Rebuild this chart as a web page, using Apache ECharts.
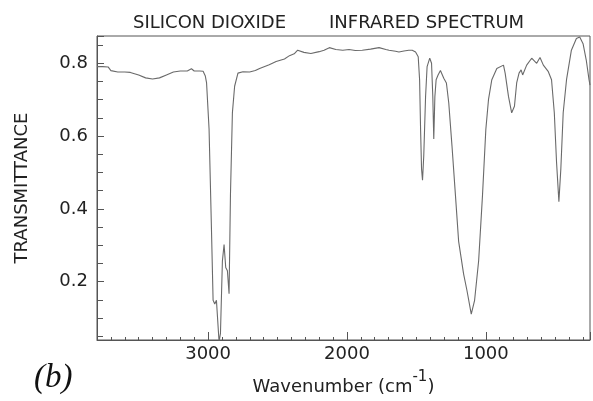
<!DOCTYPE html>
<html>
<head>
<meta charset="utf-8">
<script src="https://cdn.jsdelivr.net/npm/echarts@6/dist/echarts.min.js"></script>
<style>html,body{margin:0;padding:0;background:#fff;}#c{width:593px;height:401px;}</style>
</head>
<body>
<div id="c"></div>
<script>
const wavenumbers = [3800,3760,3720,3700,3690,3650,3600,3560,3500,3450,3400,3350,3300,3250,3200,3150,3120,3100,3060,3036,3020,3011,2993,2976,2964,2952,2940,2921,2911,2897,2885,2873,2861,2849,2839,2825,2809,2785,2749,2701,2660,2629,2560,2510,2450,2414,2380,2355,2310,2260,2200,2165,2127,2080,2030,1985,1940,1890,1830,1769,1720,1697,1650,1626,1590,1555,1530,1506,1487,1477,1470,1463,1456,1447,1434,1423,1404,1391,1382,1375,1367,1358,1344,1327,1303,1284,1267,1244,1219,1196,1160,1136,1105,1081,1052,1024,1000,981,957,921,873,861,837,814,794,778,761,746,735,723,706,670,634,610,586,550,527,507,491,474,460,443,419,384,348,324,300,277,257,250];
const transmittance = [0.791,0.791,0.790,0.780,0.775,0.776,0.776,0.775,0.768,0.760,0.757,0.760,0.768,0.776,0.779,0.779,0.785,0.779,0.779,0.778,0.765,0.746,0.619,0.348,0.149,0.139,0.149,0.035,0.058,0.257,0.302,0.239,0.230,0.167,0.438,0.664,0.737,0.773,0.777,0.776,0.780,0.786,0.796,0.805,0.812,0.821,0.826,0.836,0.830,0.827,0.832,0.836,0.843,0.838,0.836,0.838,0.835,0.836,0.839,0.843,0.838,0.836,0.833,0.831,0.834,0.836,0.836,0.831,0.818,0.755,0.619,0.510,0.479,0.547,0.709,0.791,0.814,0.800,0.709,0.592,0.709,0.755,0.768,0.780,0.759,0.746,0.691,0.574,0.438,0.311,0.221,0.176,0.111,0.149,0.257,0.438,0.619,0.700,0.755,0.786,0.795,0.773,0.709,0.664,0.682,0.746,0.773,0.782,0.768,0.766,0.795,0.814,0.800,0.816,0.795,0.777,0.755,0.664,0.529,0.420,0.510,0.664,0.755,0.836,0.868,0.872,0.854,0.809,0.755,0.740];
const xTickLabels = [3000, 2000, 1000];
const yTickLabels = [0.2, 0.4, 0.6, 0.8];
const titleLeft = 'SILICON DIOXIDE';
const titleRight = 'INFRARED SPECTRUM';
const xName = 'Wavenumber (cm';
const xNameSup = '-1';
const yName = 'TRANSMITTANCE';
const panelLabel = '(b)';

const font = 'DejaVu Sans';
const chart = echarts.init(document.getElementById('c'), null, {renderer: 'canvas'});
const data = wavenumbers.map((w, i) => [w, transmittance[i]]);
chart.setOption({
  animation: false,
  backgroundColor: '#fff',
  textStyle: {fontFamily: font},
  grid: {left: 97, right: 1, top: 36, bottom: 57, show: true, borderColor: '#555', borderWidth: 1, containLabel: false},
  xAxis: {
    type: 'value', inverse: true, min: 250, max: 3800,
    splitNumber: 4, minInterval: 1000, maxInterval: 1000,
    axisLine: {show: true, lineStyle: {color: '#555', width: 1}},
    axisTick: {show: true, inside: true, length: 8, lineStyle: {color: '#555'}},
    minorTick: {show: true, splitNumber: 10, length: 3, lineStyle: {color: '#555'}},
    splitLine: {show: false},
    axisLabel: {color: '#222', fontSize: 18, fontFamily: font, margin: 5,
      formatter: v => xTickLabels.indexOf(Math.round(v)) >= 0 ? String(Math.round(v)) : ''},
    name: '{a|' + xName + '}{s|' + xNameSup + '}{a|)}',
    nameLocation: 'middle', nameGap: 30,
    nameTextStyle: {rich: {
      a: {fontSize: 18, fontFamily: font, color: '#222', verticalAlign: 'bottom', lineHeight: 26},
      s: {fontSize: 15, fontFamily: font, color: '#222', verticalAlign: 'top', lineHeight: 26}
    }}
  },
  yAxis: {
    type: 'value', min: 0.04, max: 0.875,
    splitNumber: 4, minInterval: 0.2, maxInterval: 0.2,
    axisLine: {show: true, lineStyle: {color: '#555', width: 1}},
    axisTick: {show: true, inside: true, length: 7, lineStyle: {color: '#555'}},
    minorTick: {show: true, splitNumber: 4, length: 6, lineStyle: {color: '#555'}},
    splitLine: {show: false},
    axisLabel: {color: '#222', fontSize: 18, fontFamily: font, margin: 9,
      formatter: v => yTickLabels.some(t => Math.abs(t - v) < 1e-6) ? v.toFixed(1) : ''},
    name: yName, nameLocation: 'middle', nameGap: 66, nameRotate: 90,
    nameTextStyle: {fontSize: 18, fontFamily: font, color: '#222'}
  },
  series: [{
    type: 'line', data: data, symbol: 'none', smooth: false, clip: true,
    lineStyle: {color: '#6a6a6a', width: 1.1}
  }],
  graphic: [
    {type: 'text', left: 133, top: 14, style: {text: titleLeft, font: '18px "DejaVu Sans"', fill: '#222'}},
    {type: 'text', left: 329, top: 14, style: {text: titleRight, font: '18px "DejaVu Sans"', fill: '#222'}},
    {type: 'text', left: 34, top: 362, style: {text: panelLabel, font: 'italic 33px "Liberation Serif"', fill: '#111'}}
  ]
});
</script>
</body>
</html>
